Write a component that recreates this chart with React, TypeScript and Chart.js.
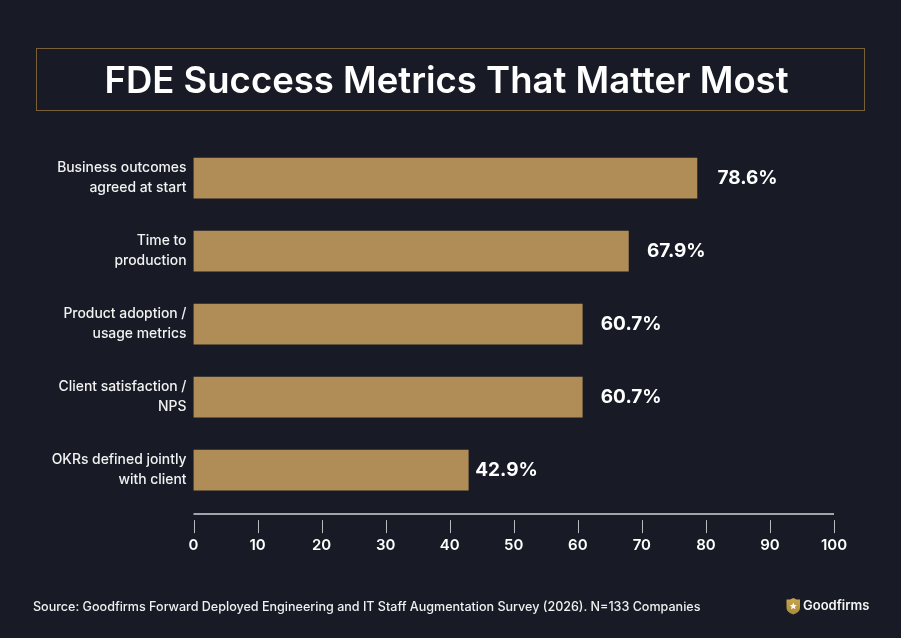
import React, { useEffect, useRef } from "react";
import { Chart, registerables } from "chart.js";
Chart.register(...registerables);

const categories = [
  ["Business outcomes", "agreed at start"],
  ["Time to", "production"],
  ["Product adoption /", "usage metrics"],
  ["Client satisfaction /", "NPS"],
  ["OKRs defined jointly", "with client"],
];
const values = [78.6, 67.9, 60.7, 60.7, 42.9];
const valueLabels = ["78.6%", "67.9%", "60.7%", "60.7%", "42.9%"];
const labelGaps = [20.5, 18.5, 18.5, 18.5, 7];

const FONT = "Inter, sans-serif";

// value labels next to the bars + the detached x axis line and ticks
const decorations = {
  id: "decorations",
  afterDatasetsDraw(chart: any) {
    const { ctx, scales } = chart;
    const x = scales.x;
    const axisY = chart.chartArea.bottom + 7.5;
    ctx.save();
    ctx.strokeStyle = "#d2d2d5";
    ctx.lineWidth = 1.5;
    ctx.beginPath();
    ctx.moveTo(x.left, axisY);
    ctx.lineTo(x.right, axisY);
    ctx.stroke();
    ctx.strokeStyle = "#b9babd";
    ctx.lineWidth = 1;
    x.ticks.forEach((t: any) => {
      const px = Math.round(x.getPixelForValue(t.value)) + 0.5;
      ctx.beginPath();
      ctx.moveTo(px, axisY + 6);
      ctx.lineTo(px, axisY + 19);
      ctx.stroke();
    });
    ctx.fillStyle = "#ffffff";
    ctx.font = `700 19px ${FONT}`;
    ctx.textAlign = "left";
    ctx.textBaseline = "middle";
    chart.getDatasetMeta(0).data.forEach((bar: any, i: number) => {
      ctx.fillText(valueLabels[i], bar.x + labelGaps[i], bar.y);
    });
    ctx.restore();
  },
};

const App: React.FC = () => {
  const chartRef = useRef<HTMLCanvasElement | null>(null);

  useEffect(() => {
    if (!chartRef.current) return;
    const chart = new Chart(chartRef.current, {
      type: "bar",
      data: {
        labels: categories,
        datasets: [
          {
            data: values,
            backgroundColor: "#b08d57",
            barThickness: 40,
          },
        ],
      },
      options: {
        indexAxis: "y",
        animation: false,
        responsive: false,
        layout: { padding: { top: 141.6, right: 67, left: 0, bottom: 0 } },
        plugins: { legend: { display: false }, tooltip: { enabled: false } },
        scales: {
          x: {
            min: 0,
            max: 100,
            afterFit: (s: any) => {
              s.height = 131.4;
            },
            grid: { display: false, drawTicks: false },
            border: { display: false },
            ticks: {
              stepSize: 10,
              padding: 30,
              maxRotation: 0,
              color: "#ffffff",
              font: { family: FONT, size: 15, weight: 600 },
            },
          },
          y: {
            afterFit: (s: any) => {
              s.width = 193.5;
            },
            grid: { display: false, drawTicks: false },
            border: { display: false },
            ticks: {
              padding: 7,
              labelOffset: -0.5,
              color: "#f2f2f2",
              font: { family: FONT, size: 13.9, weight: 500, lineHeight: 1.42 },
            },
          },
        },
      },
      plugins: [decorations],
    });
    return () => chart.destroy();
  }, []);

  return (
    <div style={{ position: "absolute", left: 0, top: 0, width: 901, height: 638, background: "#181b26", overflow: "hidden", fontFamily: FONT }}>
      <canvas ref={chartRef} width={901} height={638} style={{ position: "absolute", left: 0, top: 0, width: 901, height: 638 }} />
      <div
        style={{
          position: "absolute",
          left: 36,
          top: 48,
          width: 827,
          height: 61,
          border: "1px solid #7a6038",
          display: "flex",
          alignItems: "center",
          justifyContent: "center",
          color: "#ffffff",
          fontSize: 36.5,
          fontWeight: 600,
          whiteSpace: "nowrap",
        }}
      >
        <span style={{ position: "relative", left: -4 }}>FDE Success Metrics That Matter Most</span>
      </div>
      <div style={{ position: "absolute", left: 33, top: 599, color: "#f0f0f0", fontSize: 12.56, fontWeight: 500, whiteSpace: "nowrap" }}>
        Source: Goodfirms Forward Deployed Engineering and IT Staff Augmentation Survey (2026). N=133 Companies
      </div>
      <svg style={{ position: "absolute", left: 786, top: 598 }} width="15" height="17" viewBox="0 0 15 17">
        <defs>
          <linearGradient id="shield" x1="0" y1="0" x2="0" y2="1">
            <stop offset="0" stopColor="#c9a64e" />
            <stop offset="1" stopColor="#a98a3c" />
          </linearGradient>
        </defs>
        <path d="M0.5 1.5 L4 1.5 L7.3 0 L10.6 1.5 L14 1.5 L14 10 Q14 14 7.3 16.5 Q0.5 14 0.5 10 Z" fill="url(#shield)" />
        <path d="M7.3 4.5 L8.3 7 L10.8 7.2 L8.9 8.8 L9.5 11.3 L7.3 10 L5.1 11.3 L5.7 8.8 L3.8 7.2 L6.3 7 Z" fill="#ffffff" />
      </svg>
      <div style={{ position: "absolute", left: 803, top: 597, color: "#f5f5f5", fontSize: 13, fontWeight: 600, whiteSpace: "nowrap" }}>
        Goodfirms
      </div>
    </div>
  );
};

export default App;
